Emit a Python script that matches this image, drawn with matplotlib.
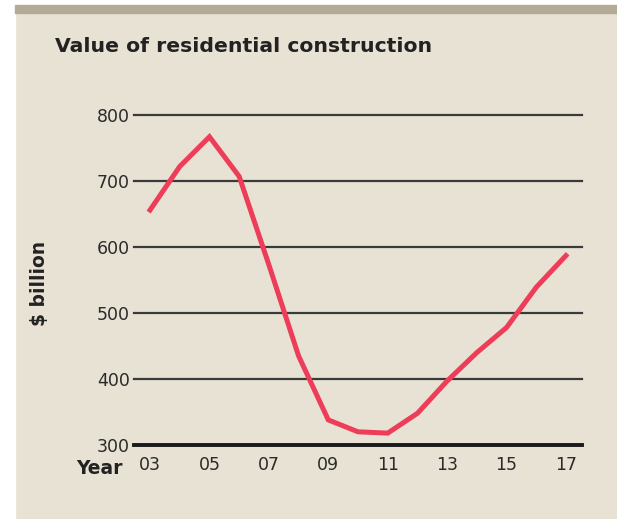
import matplotlib
matplotlib.use("Agg")
import matplotlib.pyplot as plt
from matplotlib.patches import Rectangle

years = [2003, 2004, 2005, 2006, 2007, 2008, 2009, 2010, 2011, 2012, 2013, 2014, 2015, 2016, 2017]
values = [656, 722, 767, 707, 573, 435, 338, 320, 318, 348, 397, 440, 478, 539, 587]
yticks = [300, 400, 500, 600, 700, 800]
xticks = [2003, 2005, 2007, 2009, 2011, 2013, 2015, 2017]
xlabels = ["03", "05", "07", "09", "11", "13", "15", "17"]

bg = "#e8e2d4"
W, H = 617, 519
fig = plt.figure(figsize=(W / 100, H / 100), dpi=100)
fig.patch.set_facecolor(bg)

# white strip on the left, white gap on top and the grey header bar
fig.add_artist(Rectangle((0, 0), 15 / W, 1, transform=fig.transFigure, color="white", zorder=0))
fig.add_artist(Rectangle((0, 1 - 5 / H), 1, 5 / H, transform=fig.transFigure, color="white", zorder=0))
fig.add_artist(Rectangle((15 / W, 1 - 13 / H), 1, 8 / H, transform=fig.transFigure, color="#b3ab96", zorder=1))

ax = fig.add_axes([134 / W, 1 - 445 / H, (582 - 134) / W, (445 - 115) / H])
ax.set_facecolor(bg)
ax.set_xlim(2002.46, 2017.54)
ax.set_ylim(300, 800)

for v in yticks:
    if v == 300:
        ax.axhline(v, color="#1a1a1a", lw=2.8, zorder=1, clip_on=False)
    else:
        ax.axhline(v, color="#3a3a3a", lw=1.6, zorder=1, clip_on=False)

ax.plot(years, values, color="#ee3d58", lw=3.6, solid_joinstyle="miter", zorder=3, clip_on=False)

for s in ax.spines.values():
    s.set_visible(False)
ax.set_yticks(yticks)
ax.set_xticks(xticks)
ax.set_xticklabels(xlabels)
ax.tick_params(axis="both", length=0, labelsize=12.5, colors="#2a2a2a")
ax.tick_params(axis="y", pad=3)
ax.tick_params(axis="x", pad=8)

fig.text(55 / W, 1 - 47 / H, "Value of residential construction", fontsize=14.7,
         fontweight="bold", color="#222222", va="center", ha="left")
fig.text(123 / W, 1 - 468 / H, "Year", fontsize=13.5, fontweight="bold",
         color="#222222", va="center", ha="right")
fig.text(40 / W, 1 - 283 / H, "$ billion", fontsize=13.5, fontweight="bold", rotation=90,
         color="#222222", va="center", ha="center")

fig.savefig("out.png", dpi=100, facecolor=bg)
